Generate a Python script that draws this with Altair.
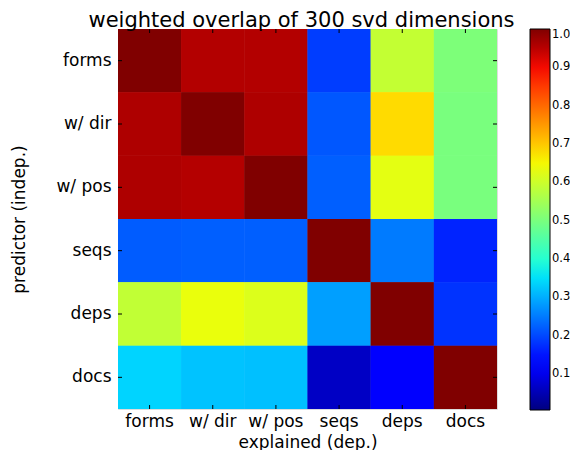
import altair as alt
import pandas as pd

# ---- data ----
predictors = ["forms", "w/ dir", "w/ pos", "seqs", "deps", "docs"]
explained = ["forms", "w/ dir", "w/ pos", "seqs", "deps", "docs"]
row_forms = [1.00, 0.956, 0.956, 0.19, 0.59, 0.505]
row_wdir = [0.96, 1.00, 0.96, 0.215, 0.68, 0.50]
row_wpos = [0.96, 0.955, 1.00, 0.223, 0.63, 0.50]
row_seqs = [0.22, 0.223, 0.223, 1.00, 0.25, 0.164]
row_deps = [0.588, 0.637, 0.62, 0.285, 1.00, 0.18]
row_docs = [0.337, 0.32, 0.317, 0.066, 0.115, 1.00]
rows = [row_forms, row_wdir, row_wpos, row_seqs, row_deps, row_docs]
cbar_ticks = [0.1, 0.2, 0.3, 0.4, 0.5, 0.6, 0.7, 0.8, 0.9, 1.0]
vmin, vmax = 0.006, 1.0

records = []
for p, r in zip(predictors, rows):
    for e, v in zip(explained, r):
        records.append({"predictor": p, "explained": e, "value": v})
df = pd.DataFrame(records)

# ---- jet colormap (style) ----
def interp(pts, t):
    for (x0, y0), (x1, y1) in zip(pts[:-1], pts[1:]):
        if x0 <= t <= x1:
            return y0 if x1 == x0 else y0 + (y1 - y0) * (t - x0) / (x1 - x0)
    return pts[-1][1]

R = [(0, 0), (0.35, 0), (0.66, 1), (0.89, 1), (1, 0.5)]
G = [(0, 0), (0.125, 0), (0.375, 1), (0.64, 1), (0.91, 0), (1, 0)]
B = [(0, 0.5), (0.11, 1), (0.34, 1), (0.65, 0), (1, 0)]
jet = []
n = 101
for i in range(n):
    t = i / (n - 1)
    jet.append("#%02x%02x%02x" % tuple(int(round(255 * interp(c, t))) for c in (R, G, B)))

W, H = 379, 380
FONT = "DejaVu Sans"

xenc = alt.X("explained:N", sort=explained, title="explained (dep.)",
             scale=alt.Scale(paddingInner=0, paddingOuter=0),
             axis=alt.Axis(labelAngle=0, tickSize=0, domain=False, labelPadding=4,
                           titlePadding=5, labelFontSize=17, titleFontSize=17,
                           labelFont=FONT, titleFont=FONT, labelColor="black",
                           titleColor="black", titleFontWeight="normal"))
yenc = alt.Y("predictor:N", sort=predictors, title="predictor (indep.)",
             scale=alt.Scale(paddingInner=0, paddingOuter=0),
             axis=alt.Axis(tickSize=0, domain=False, labelPadding=7,
                           titlePadding=27, labelFontSize=17, titleFontSize=17,
                           labelFont=FONT, titleFont=FONT, labelColor="black",
                           titleColor="black", titleFontWeight="normal"))
cscale = alt.Scale(domain=[vmin, vmax], range=jet, interpolate="rgb")

heat = alt.Chart(df).mark_rect().encode(
    x=xenc, y=yenc,
    color=alt.Color("value:Q", scale=cscale,
                    legend=alt.Legend(title=None, orient="none",
                                      legendX=412, legendY=0,
                                      direction="vertical", gradientLength=381,
                                      gradientThickness=20, gradientStrokeColor="black",
                                      gradientStrokeWidth=1, values=cbar_ticks,
                                      labelFontSize=11.5, labelFont=FONT, labelColor="black",
                                      labelOverlap=False, labelOffset=2, tickCount=10)),
)
heat2 = alt.Chart(df).mark_rect().encode(
    x=alt.X("explained:N", sort=explained), y=alt.Y("predictor:N", sort=predictors),
    color=alt.Color("value:Q", scale=cscale, legend=None),
)

topticks = alt.Chart(pd.DataFrame({"explained": explained})).mark_rule(color="black").encode(
    x=alt.X("explained:N", sort=explained), y=alt.value(0), y2=alt.value(4))
botticks = alt.Chart(pd.DataFrame({"explained": explained})).mark_rule(color="black").encode(
    x=alt.X("explained:N", sort=explained), y=alt.value(H - 4), y2=alt.value(H))
leftticks = alt.Chart(pd.DataFrame({"predictor": predictors})).mark_rule(color="black").encode(
    y=alt.Y("predictor:N", sort=predictors), x=alt.value(0), x2=alt.value(4))
rightticks = alt.Chart(pd.DataFrame({"predictor": predictors})).mark_rule(color="black").encode(
    y=alt.Y("predictor:N", sort=predictors), x=alt.value(W - 4), x2=alt.value(W))

chart = alt.layer(heat, heat2, topticks, botticks, leftticks, rightticks).properties(
    width=W, height=H,
    title=alt.Title("weighted overlap of 300 svd dimensions", fontSize=21, font=FONT,
                    fontWeight="normal", color="black", anchor="middle", offset=-2, dx=-6),
    autosize=alt.AutoSizeParams(type="none"),
    padding={"left": 110, "top": 21, "right": 73, "bottom": 41},
).configure_view(stroke="black", strokeWidth=1).configure(background="white")

chart.save("out.html", embed_options={"renderer": "svg", "actions": False})
